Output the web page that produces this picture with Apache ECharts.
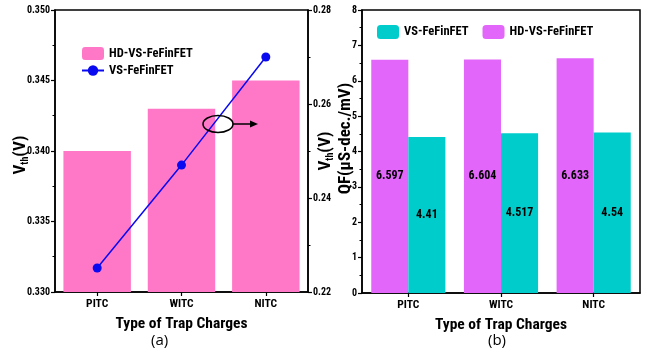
<!DOCTYPE html>
<html><head><meta charset="utf-8">
<script src="https://cdn.jsdelivr.net/npm/echarts@6/dist/echarts.min.js"></script>
<style>html,body{margin:0;padding:0;background:#fff}#c{width:660px;height:358px}</style>
</head><body><div id="c"></div>
<script>
var categories = ['PITC', 'WITC', 'NITC'];
// (a) Vth
var hdVth = [0.340, 0.343, 0.345];
var vsVth = [0.2251, 0.2470, 0.2700];
var leftTicks = {min: 0.330, max: 0.350, interval: 0.005};
var rightTicks = {min: 0.22, max: 0.28, interval: 0.02};
// (b) QF
var vsQF = [4.41, 4.517, 4.54];
var hdQF = [6.597, 6.604, 6.633];
var qfTicks = {min: 0, max: 8, interval: 1};

var FONT = "Roboto, 'Open Sans', sans-serif";
var BW = 'bold condensed';
var axisLine = {show: true, lineStyle: {color: '#000', width: 1.5}};
var tickStyle = {show: true, inside: false, length: 4, lineStyle: {color: '#000', width: 1.2}};
var minorTick = {show: true, splitNumber: 2, length: 2.5, lineStyle: {color: '#000', width: 1}};
var tickLabel = {color: '#000', fontFamily: FONT, fontWeight: BW, fontSize: 10};
var vthRich = {
  a: {fontFamily: FONT, fontWeight: BW, fontSize: 17, color: '#000'},
  b: {fontFamily: FONT, fontWeight: BW, fontSize: 10, color: '#000', verticalAlign: 'bottom', padding: [8, 0, 0, 0]}
};
var catLabel = {color: '#000', fontFamily: FONT, fontWeight: BW, fontSize: 11.5, margin: 6};
var xName = {color: '#000', fontFamily: FONT, fontWeight: BW, fontSize: 15.5};
var legendText = {fontFamily: FONT, fontWeight: BW, fontSize: 12.5, color: '#000'};
var barLabel = {show: true, position: 'inside', color: '#000', fontFamily: FONT, fontWeight: BW, fontSize: 12};

var chart = echarts.init(document.getElementById('c'), null, {renderer: 'canvas'});
chart.setOption({
  animation: false,
  backgroundColor: '#fff',
  grid: [
    {left: 55, right: 352, top: 10, bottom: 66, show: true, borderColor: '#000', borderWidth: 1.5, backgroundColor: 'transparent'},
    {left: 362, right: 20, top: 10, bottom: 65, show: true, borderColor: '#000', borderWidth: 1.5, backgroundColor: 'transparent'}
  ],
  legend: [
    {orient: 'vertical', left: 76, top: 42, itemWidth: 22, itemHeight: 13, itemGap: 4,
     data: ['HD-VS-FeFinFET', 'VS-FeFinFET'], textStyle: legendText},
    {orient: 'horizontal', left: 372, top: 20, itemWidth: 22, itemHeight: 14, itemGap: 14,
     data: ['VS-FeFinFET (b)', 'HD-VS-FeFinFET (b)'],
     formatter: function (n) { return n.replace(' (b)', ''); }, textStyle: legendText}
  ],
  xAxis: [
    {type: 'category', gridIndex: 0, data: categories, axisLine: axisLine,
     axisTick: {show: true, alignWithLabel: true, length: 4, lineStyle: {color: '#000', width: 1.2}},
     axisLabel: catLabel, nameMoveOverlap: false,
     name: 'Type of Trap Charges', nameLocation: 'middle', nameGap: 24, nameTextStyle: xName},
    {type: 'category', gridIndex: 1, data: categories, axisLine: axisLine,
     axisTick: {show: true, alignWithLabel: true, length: 4, lineStyle: {color: '#000', width: 1.2}},
     axisLabel: catLabel, nameMoveOverlap: false,
     name: 'Type of Trap Charges', nameLocation: 'middle', nameGap: 24, nameTextStyle: xName}
  ],
  yAxis: [
    {type: 'value', gridIndex: 0, position: 'left', min: leftTicks.min, max: leftTicks.max, interval: leftTicks.interval,
     axisLine: axisLine, axisTick: tickStyle, minorTick: minorTick, splitLine: {show: false},
     axisLabel: Object.assign({}, tickLabel, {margin: 5, formatter: function (v) { return v.toFixed(3); }}),
     name: '{a|V}{b|th}{a|(V)}', nameLocation: 'middle', nameGap: 25, nameRotate: 90, nameMoveOverlap: false,
     nameTextStyle: {rich: vthRich, padding: [0, 8, 0, 0]}},
    {type: 'value', gridIndex: 0, position: 'right', min: rightTicks.min, max: rightTicks.max, interval: rightTicks.interval,
     axisLine: axisLine, axisTick: tickStyle, minorTick: minorTick, splitLine: {show: false},
     axisLabel: Object.assign({}, tickLabel, {margin: 5, formatter: function (v) { return v.toFixed(2); }}),
     name: '{a|V}{b|th}{a|(V)}', nameLocation: 'middle', nameGap: 9, nameRotate: 90, nameMoveOverlap: false,
     nameTextStyle: {rich: vthRich}},
    {type: 'value', gridIndex: 1, position: 'left', min: qfTicks.min, max: qfTicks.max, interval: qfTicks.interval,
     axisLine: axisLine, axisTick: tickStyle, minorTick: minorTick, splitLine: {show: false},
     axisLabel: Object.assign({}, tickLabel, {margin: 5}),
     name: 'QF(μS-dec./mV)', nameLocation: 'middle', nameGap: 8, nameRotate: 90, nameMoveOverlap: false,
     nameTextStyle: {color: '#000', fontFamily: FONT, fontWeight: BW, fontSize: 17, padding: [0, 0, 0, 26]}}
  ],
  series: [
    {name: 'HD-VS-FeFinFET', type: 'bar', xAxisIndex: 0, yAxisIndex: 0, data: hdVth,
     barCategoryGap: '20%', itemStyle: {color: '#FF78C8'}},
    {name: 'VS-FeFinFET', type: 'line', xAxisIndex: 0, yAxisIndex: 1, data: vsVth,
     symbol: 'circle', symbolSize: 9, lineStyle: {color: '#0A0AF0', width: 1.5}, itemStyle: {color: '#0A0AF0'}},
    {name: 'HD-VS-FeFinFET (b)', type: 'bar', xAxisIndex: 1, yAxisIndex: 2, data: hdQF,
     barGap: '0%', barCategoryGap: '20%', itemStyle: {color: '#E366FA'}, label: barLabel},
    {name: 'VS-FeFinFET (b)', type: 'bar', xAxisIndex: 1, yAxisIndex: 2, data: vsQF,
     barGap: '0%', barCategoryGap: '20%', itemStyle: {color: '#00CCCC'}, label: barLabel}
  ],
  graphic: [
    {type: 'ellipse', shape: {cx: 218, cy: 124, rx: 15, ry: 8.5}, style: {fill: 'none', stroke: '#000', lineWidth: 1.5}, z: 100},
    {type: 'line', shape: {x1: 233, y1: 124, x2: 252, y2: 124}, style: {stroke: '#000', lineWidth: 1.5}, z: 100},
    {type: 'polygon', shape: {points: [[250, 120.5], [258, 124], [250, 127.5]]}, style: {fill: '#000'}, z: 100},
    {type: 'text', left: 151, top: 333, style: {text: '(a)', fill: '#000', font: "15px 'Open Sans', 'Noto Sans', sans-serif"}},
    {type: 'text', left: 488, top: 333, style: {text: '(b)', fill: '#000', font: "15px 'Open Sans', 'Noto Sans', sans-serif"}}
  ]
});
</script></body></html>
